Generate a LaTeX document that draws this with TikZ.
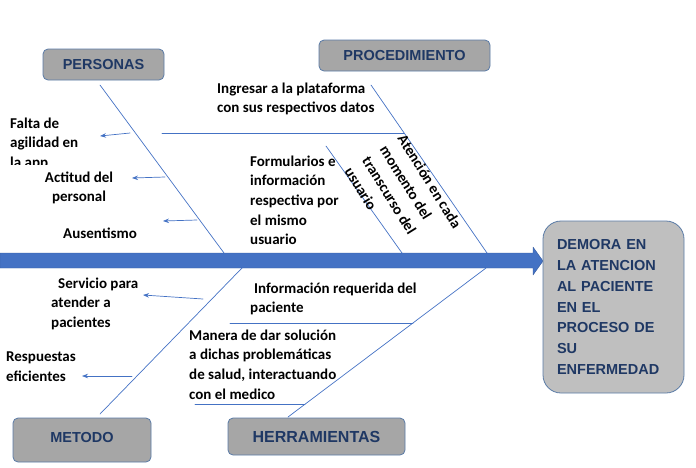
\documentclass[tikz,border=0pt]{standalone}
\usepackage{fontspec}
\setmainfont{Carlito}
\newfontfamily\lblfont{Carlito Bold}
\newfontfamily\boxfont{Liberation Sans Bold}
\usetikzlibrary{arrows.meta}
\definecolor{bonecol}{HTML}{4472C4}
\definecolor{boxline}{HTML}{5A7BA6}
\definecolor{catgray}{HTML}{A6A6A6}
\definecolor{effgray}{HTML}{BFBFBF}
\definecolor{navy}{HTML}{1F3864}
\begin{document}
\begin{tikzpicture}[x=1pt, y=-1pt, line join=round, line cap=round, >={Stealth[length=6pt,width=4.5pt]},
	bone/.style={draw=bonecol, line width=0.7pt},
	lbl/.style={anchor=north west, inner sep=0pt, align=left, font=\lblfont\fontsize{15}{19.6}\selectfont},
	cat/.style={draw=boxline, fill=catgray, rounded corners=5pt, line width=0.8pt, text=navy, font=\boxfont\fontsize{14.5}{17}\selectfont}]
	\useasboundingbox (0,0) rectangle (696,467);
	% espina central
	\fill[bonecol, draw=bonecol!80!black, line width=0.4pt] (0,253) -- (533,253) -- (533,247) -- (543,261) -- (533,275) -- (533,268) -- (0,268) -- cycle;
	\node[cat, draw=boxline, fill=effgray, rounded corners=18pt, minimum width=141, minimum height=172, text width=113, inner xsep=14pt, align=left, font=\boxfont\fontsize{14.5}{20.8}\selectfont] (efecto) at (613.5,307) {DEMORA EN\\LA ATENCION\\AL PACIENTE\\EN EL\\PROCESO DE\\SU\\ENFERMEDAD};
	\node[cat, minimum width=121, minimum height=31] (personas) at (103.5,64.5) {PERSONAS};
	\node[cat, minimum width=171, minimum height=31] (procedimiento) at (404.5,55.5) {PROCEDIMIENTO};
	\node[cat, minimum width=138, minimum height=44] (metodo) at (82,440) {\raisebox{6pt}{METODO}};
	\node[cat, minimum width=177, minimum height=37, font=\boxfont\fontsize{16}{18}\selectfont] (herramientas) at (316.5,436.5) {HERRAMIENTAS};
	\coordinate (pA) at (100,85);   \coordinate (pB) at (224,253);
	\coordinate (prA) at (371,85);  \coordinate (prB) at (487,253);
	\coordinate (inA) at (326,146); \coordinate (inB) at (402,253);
	\coordinate (hA) at (162,133);  \coordinate (hB) at (404,133);
	\coordinate (mA) at (100,414);  \coordinate (mB) at (242,268);
	\coordinate (tA) at (288,417);  \coordinate (tB) at (486,268);
	\coordinate (uA) at (230,323);  \coordinate (uB) at (413,323);
	\coordinate (vA) at (195,404);  \coordinate (vB) at (305,404);
	\draw[bone] (pA) -- (pB);
	\draw[bone] (prA) -- (prB);
	\draw[bone] (inA) -- (inB);
	\draw[bone] (hA) -- (hB);
	\draw[bone] (mA) -- (mB);
	\draw[bone] (tA) -- (tB);
	\draw[bone] (uA) -- (uB);
	\draw[bone] (vA) -- (vB);
	\begin{scope}
		\clip (0,0) rectangle (200,164);
		\node[lbl] (falta) at (10,117.5) {Falta de\\agilidad en\\la app};
	\end{scope}
	\node[lbl, anchor=north, align=center] (actitud) at (79,171.5) {Actitud del\\personal};
	\node[lbl] (ausentismo) at (63,227.5) {Ausentismo};
	\node[lbl] (ingresar) at (217,82.5) {Ingresar a la plataforma\\con sus respectivos datos};
	\node[lbl] (formularios) at (250,155.5) {Formularios e\\información\\respectiva por\\el mismo\\usuario};
	\node[lbl, rotate=-58, font=\lblfont\fontsize{15}{20.8}\selectfont] (atencion) at (406,133) {Atención en cada\\momento del\\transcurso del\\usuario};
	\node[lbl] (servicio) at (51,277.5) {\hspace{7pt}Servicio para\\atender a\\pacientes};
	\node[lbl] (respuestas) at (6,351.5) {Respuestas\\eficientes};
	\node[lbl] (inforeq) at (250,282.5) {\hspace{4pt}Información requerida del\\paciente};
	\node[lbl] (manera) at (189,329.5) {Manera de dar solución\\a dichas problemáticas\\de salud, interactuando\\con el medico};
	\coordinate (fA) at (130,133); \coordinate (fB) at (100,136);
	\coordinate (aA) at (165,177); \coordinate (aB) at (132,178);
	\coordinate (sA) at (197,220); \coordinate (sB) at (163,221);
	\coordinate (eA) at (203,299); \coordinate (eB) at (143,295);
	\coordinate (rA) at (132,376); \coordinate (rB) at (82,376);
	\foreach \s/\e in {fA/fB, aA/aB, sA/sB, eA/eB, rA/rB}
		\draw[bone, ->] (\s) -- (\e);
\end{tikzpicture}
\end{document}
